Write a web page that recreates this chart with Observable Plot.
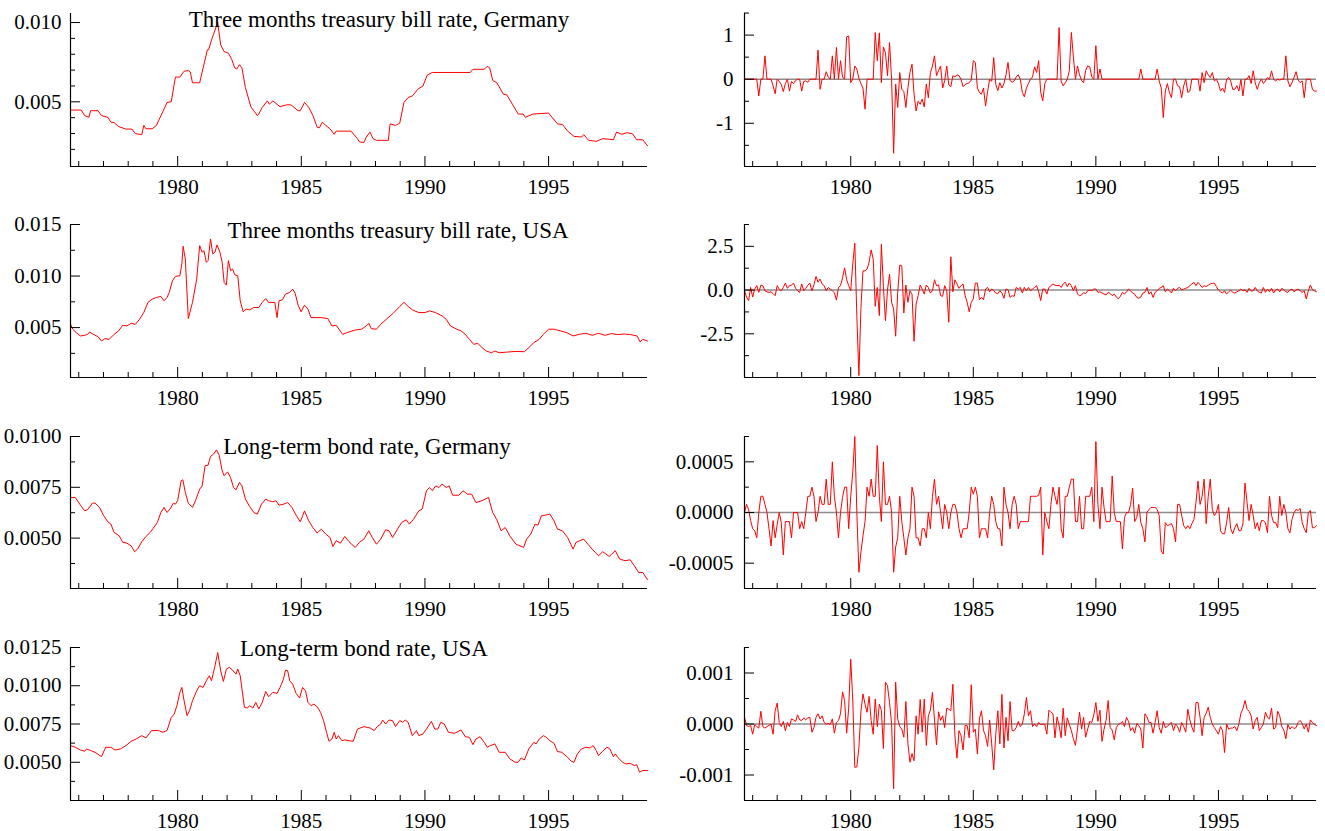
<!DOCTYPE html>
<html><head><meta charset="utf-8">
<script src="https://cdn.jsdelivr.net/npm/d3@7"></script>
<script src="https://cdn.jsdelivr.net/npm/@observablehq/plot@0.6"></script>
<style>
html,body{margin:0;padding:0;background:#fff;overflow:hidden;}
#chart{position:relative;width:1325px;height:831px;font-family:"Liberation Serif","Times New Roman",serif;}
#chart svg, #chart svg text{font-family:"Liberation Serif","Times New Roman",serif !important;font-size:21px;}
.title{position:absolute;font-size:23px;line-height:23px;white-space:nowrap;transform:translateX(-50%);color:#000;}
</style></head><body><div id="chart"></div>
<script>
// ---- time axis ----
const START = 1975 + 8 / 12;   // Sep 1975
const END = 1999;              // Jan 1999
const xLabelYears = [1980, 1985, 1990, 1995];
const xMinorYears = [1976,1977,1978,1979,1981,1982,1983,1984,1986,1987,1988,1989,1991,1992,1993,1994,1996,1997,1998];

// ---- titles ----
const titles = ["Three months treasury bill rate, Germany", "Three months treasury bill rate, USA", "Long-term bond rate, Germany", "Long-term bond rate, USA"];

// ---- left column: levels [year, value] ----
const billDE = [[1975.67,0.00448],[1976.10,0.00448],[1976.24,0.00413],[1976.41,0.00402],[1976.48,0.00444],[1976.78,0.00444],[1976.92,0.00413],[1977.18,0.00402],[1977.30,0.00371],[1977.43,0.00369],[1977.61,0.00344],[1977.90,0.00328],[1978.15,0.00328],[1978.29,0.00299],[1978.55,0.00293],[1978.63,0.00351],[1978.72,0.0033],[1978.97,0.0033],[1979.14,0.00351],[1979.28,0.00398],[1979.45,0.00454],[1979.57,0.00496],[1979.74,0.005],[1979.91,0.00656],[1980.09,0.00656],[1980.26,0.00693],[1980.43,0.00697],[1980.51,0.00689],[1980.60,0.0062],[1980.89,0.0062],[1981.03,0.00714],[1981.20,0.00828],[1981.25,0.00828],[1981.37,0.0089],[1981.45,0.00925],[1981.62,0.0100],[1981.74,0.00859],[1981.88,0.00817],[1982.05,0.00807],[1982.19,0.00766],[1982.31,0.00714],[1982.39,0.00707],[1982.50,0.00734],[1982.60,0.00714],[1982.74,0.00589],[1982.96,0.00469],[1983.22,0.00413],[1983.28,0.00423],[1983.42,0.00465],[1983.63,0.00506],[1983.71,0.00485],[1983.85,0.00506],[1984.14,0.00469],[1984.41,0.00481],[1984.58,0.00481],[1984.87,0.00444],[1984.96,0.00444],[1985.13,0.00496],[1985.30,0.00465],[1985.47,0.00413],[1985.64,0.0034],[1985.73,0.00336],[1985.85,0.00371],[1985.99,0.00351],[1986.16,0.0033],[1986.33,0.00295],[1986.41,0.00315],[1987.01,0.00315],[1987.27,0.00268],[1987.35,0.00247],[1987.53,0.00243],[1987.63,0.00278],[1987.78,0.00309],[1987.90,0.00268],[1988.04,0.00257],[1988.52,0.00257],[1988.59,0.00361],[1988.81,0.00351],[1988.98,0.00365],[1989.15,0.00496],[1989.32,0.00527],[1989.49,0.00537],[1989.71,0.00579],[1989.92,0.006],[1990.09,0.00668],[1990.30,0.00685],[1991.83,0.00685],[1991.94,0.00705],[1992.40,0.00705],[1992.52,0.00724],[1992.62,0.00714],[1992.74,0.00635],[1992.91,0.0062],[1993.17,0.00548],[1993.31,0.00544],[1993.55,0.00481],[1993.77,0.00423],[1993.97,0.00423],[1994.06,0.00402],[1994.37,0.00423],[1995.0,0.00429],[1995.36,0.00361],[1995.56,0.00357],[1995.77,0.00315],[1996.03,0.00282],[1996.33,0.00278],[1996.42,0.00293],[1996.62,0.00257],[1996.93,0.00251],[1997.19,0.00268],[1997.62,0.00261],[1997.75,0.00309],[1997.96,0.00295],[1998.16,0.00305],[1998.39,0.00299],[1998.56,0.00261],[1998.81,0.00261],[1999.0,0.00222]];

const billUS = [[1975.67,0.00532],[1975.76,0.00484],[1975.90,0.00451],[1976.07,0.00419],[1976.24,0.00425],[1976.36,0.00435],[1976.44,0.00458],[1976.58,0.00435],[1976.78,0.00412],[1976.92,0.0037],[1977.06,0.00393],[1977.23,0.00386],[1977.43,0.00435],[1977.61,0.00468],[1977.78,0.00523],[1977.95,0.00516],[1978.12,0.00542],[1978.29,0.00532],[1978.46,0.00581],[1978.63,0.00646],[1978.80,0.00744],[1978.97,0.00776],[1979.14,0.00792],[1979.32,0.00802],[1979.45,0.0076],[1979.57,0.00792],[1979.66,0.00841],[1979.79,0.00955],[1979.91,0.00997],[1980.09,0.01003],[1980.17,0.01117],[1980.22,0.01289],[1980.31,0.01166],[1980.43,0.00588],[1980.60,0.00744],[1980.77,0.00971],[1980.89,0.01295],[1980.99,0.0123],[1981.06,0.01247],[1981.16,0.01133],[1981.23,0.0115],[1981.33,0.0136],[1981.42,0.01215],[1981.51,0.01231],[1981.59,0.01302],[1981.71,0.01231],[1981.80,0.01133],[1981.88,0.00938],[1981.97,0.00912],[1982.05,0.0115],[1982.14,0.01052],[1982.22,0.01068],[1982.31,0.01013],[1982.43,0.01003],[1982.53,0.0076],[1982.65,0.00653],[1982.77,0.00679],[1982.91,0.00672],[1983.08,0.00695],[1983.28,0.00695],[1983.42,0.00744],[1983.56,0.00782],[1983.68,0.00744],[1983.93,0.00744],[1984.02,0.00597],[1984.10,0.0076],[1984.24,0.0077],[1984.36,0.00825],[1984.53,0.00841],[1984.65,0.00873],[1984.75,0.00834],[1984.87,0.00718],[1984.99,0.00653],[1985.13,0.00718],[1985.27,0.00679],[1985.39,0.00597],[1985.81,0.00597],[1986.07,0.00588],[1986.24,0.00516],[1986.41,0.00523],[1986.67,0.00435],[1986.84,0.00451],[1987.18,0.00477],[1987.44,0.00484],[1987.66,0.00523],[1987.73,0.00542],[1987.83,0.0049],[1988.04,0.00484],[1988.21,0.00532],[1988.47,0.00588],[1988.72,0.0064],[1988.98,0.00705],[1989.15,0.00744],[1989.32,0.00705],[1989.49,0.00672],[1989.75,0.00646],[1990.01,0.00646],[1990.18,0.00662],[1990.43,0.00646],[1990.69,0.00614],[1990.86,0.00581],[1991.03,0.00516],[1991.29,0.00484],[1991.46,0.00468],[1991.63,0.00435],[1991.80,0.00386],[1991.97,0.00338],[1992.14,0.00347],[1992.31,0.00305],[1992.48,0.00273],[1992.69,0.00256],[1992.83,0.00273],[1993.00,0.00256],[1993.34,0.00263],[1993.68,0.00269],[1994.02,0.00266],[1994.20,0.00305],[1994.40,0.00354],[1994.62,0.00386],[1994.79,0.00435],[1995.00,0.00484],[1995.22,0.00484],[1995.48,0.00468],[1995.74,0.00451],[1995.99,0.00419],[1996.25,0.00435],[1996.51,0.00445],[1996.77,0.00425],[1997.02,0.00445],[1997.28,0.00425],[1997.54,0.00442],[1997.80,0.00432],[1998.06,0.00438],[1998.32,0.00432],[1998.58,0.00419],[1998.70,0.0036],[1998.80,0.00386],[1999.0,0.0037]];

const bondDE = [[1975.67,0.0070],[1975.86,0.0070],[1976.07,0.00662],[1976.24,0.00634],[1976.37,0.00641],[1976.55,0.00672],[1976.66,0.00672],[1976.84,0.00651],[1977.01,0.0061],[1977.18,0.0058],[1977.30,0.00569],[1977.43,0.00528],[1977.64,0.00511],[1977.78,0.00479],[1977.95,0.00475],[1978.12,0.00462],[1978.26,0.00433],[1978.38,0.00446],[1978.55,0.00482],[1978.72,0.00508],[1978.89,0.00528],[1979.01,0.00548],[1979.18,0.00577],[1979.32,0.00626],[1979.45,0.00651],[1979.57,0.00626],[1979.69,0.00643],[1979.83,0.00672],[1979.91,0.00667],[1980.00,0.00684],[1980.14,0.00782],[1980.21,0.00787],[1980.31,0.00725],[1980.43,0.00672],[1980.60,0.00651],[1980.72,0.00684],[1980.89,0.00741],[1980.99,0.00757],[1981.11,0.00856],[1981.23,0.00859],[1981.33,0.00902],[1981.45,0.00913],[1981.57,0.00934],[1981.68,0.00908],[1981.80,0.00831],[1981.88,0.00807],[1982.02,0.00826],[1982.14,0.00798],[1982.26,0.00749],[1982.36,0.00738],[1982.50,0.00774],[1982.60,0.00757],[1982.74,0.00692],[1982.91,0.00656],[1983.08,0.00626],[1983.22,0.00618],[1983.39,0.00667],[1983.56,0.00692],[1983.68,0.00684],[1983.85,0.00679],[1983.97,0.00684],[1984.10,0.00662],[1984.28,0.00667],[1984.45,0.00675],[1984.62,0.00651],[1984.79,0.00613],[1984.96,0.0058],[1985.13,0.00634],[1985.30,0.00585],[1985.47,0.00552],[1985.64,0.00525],[1985.81,0.00544],[1985.99,0.0052],[1986.16,0.00503],[1986.28,0.00459],[1986.41,0.00487],[1986.58,0.00475],[1986.76,0.00508],[1986.93,0.00482],[1987.18,0.00454],[1987.35,0.00479],[1987.53,0.00495],[1987.73,0.00536],[1987.87,0.00503],[1988.04,0.0047],[1988.21,0.00495],[1988.41,0.00541],[1988.55,0.00536],[1988.69,0.00503],[1988.89,0.00544],[1989.06,0.00577],[1989.24,0.0059],[1989.37,0.00569],[1989.54,0.00593],[1989.75,0.00634],[1989.89,0.00643],[1990.06,0.00733],[1990.18,0.00749],[1990.30,0.00733],[1990.43,0.00757],[1990.57,0.00749],[1990.69,0.00766],[1990.86,0.00749],[1990.98,0.00757],[1991.12,0.00711],[1991.37,0.00711],[1991.54,0.00733],[1991.72,0.00716],[1991.89,0.00716],[1992.06,0.00675],[1992.31,0.00684],[1992.57,0.007],[1992.74,0.00626],[1992.91,0.0059],[1993.08,0.00536],[1993.25,0.00552],[1993.43,0.00511],[1993.68,0.0047],[1993.99,0.00454],[1994.11,0.00495],[1994.28,0.0052],[1994.45,0.00569],[1994.57,0.00564],[1994.71,0.0061],[1994.88,0.00613],[1995.05,0.00618],[1995.22,0.00585],[1995.36,0.00544],[1995.56,0.00536],[1995.77,0.00503],[1995.99,0.00446],[1996.11,0.00479],[1996.25,0.00487],[1996.42,0.00495],[1996.59,0.0047],[1996.76,0.00446],[1997.02,0.00413],[1997.19,0.00433],[1997.45,0.0041],[1997.70,0.00438],[1997.87,0.00397],[1998.09,0.00389],[1998.30,0.00393],[1998.47,0.00364],[1998.64,0.00331],[1998.81,0.00331],[1999.0,0.00295]];

const bondUS = [[1975.67,0.00609],[1975.86,0.00598],[1976.07,0.0058],[1976.24,0.00572],[1976.32,0.00587],[1976.49,0.00576],[1976.66,0.00565],[1976.92,0.00537],[1977.09,0.00598],[1977.30,0.00598],[1977.47,0.0058],[1977.69,0.00587],[1977.91,0.00609],[1978.12,0.00637],[1978.32,0.00652],[1978.55,0.00674],[1978.72,0.00659],[1978.94,0.00707],[1979.23,0.00707],[1979.40,0.00696],[1979.57,0.00707],[1979.74,0.00793],[1979.86,0.00815],[1979.97,0.0087],[1980.09,0.00957],[1980.17,0.00989],[1980.26,0.00902],[1980.38,0.00804],[1980.48,0.00837],[1980.60,0.00902],[1980.77,0.00967],[1980.89,0.01],[1981.03,0.00989],[1981.16,0.01033],[1981.28,0.01065],[1981.37,0.01033],[1981.51,0.0113],[1981.62,0.01217],[1981.74,0.01098],[1981.85,0.01028],[1981.97,0.01109],[1982.09,0.0112],[1982.22,0.01102],[1982.36,0.01076],[1982.43,0.01109],[1982.53,0.01065],[1982.70,0.00859],[1982.82,0.00854],[1982.91,0.0087],[1983.04,0.00854],[1983.16,0.00891],[1983.28,0.00848],[1983.42,0.00891],[1983.56,0.00963],[1983.68,0.00928],[1983.85,0.00957],[1984.02,0.0095],[1984.14,0.00989],[1984.28,0.01043],[1984.36,0.01102],[1984.45,0.01098],[1984.53,0.01033],[1984.65,0.01011],[1984.79,0.0095],[1984.93,0.0092],[1985.05,0.00989],[1985.17,0.00967],[1985.27,0.00891],[1985.39,0.0087],[1985.51,0.0088],[1985.64,0.00863],[1985.78,0.00826],[1985.90,0.00772],[1986.02,0.00696],[1986.12,0.00637],[1986.24,0.00652],[1986.33,0.00696],[1986.41,0.00652],[1986.50,0.00674],[1986.64,0.00641],[1986.76,0.00646],[1986.93,0.00641],[1987.10,0.00637],[1987.27,0.00717],[1987.53,0.00733],[1987.78,0.00724],[1987.95,0.00707],[1988.07,0.00733],[1988.21,0.0075],[1988.29,0.00776],[1988.41,0.0075],[1988.55,0.00776],[1988.69,0.00772],[1988.81,0.00733],[1988.98,0.00772],[1989.10,0.00761],[1989.20,0.00776],[1989.32,0.00761],[1989.49,0.00674],[1989.66,0.00707],[1989.75,0.00674],[1989.92,0.00685],[1990.09,0.00724],[1990.26,0.00767],[1990.40,0.00717],[1990.52,0.00717],[1990.64,0.00761],[1990.78,0.0075],[1990.95,0.00696],[1991.20,0.00689],[1991.46,0.00711],[1991.63,0.00667],[1991.80,0.00663],[1991.94,0.00615],[1992.06,0.00652],[1992.23,0.00667],[1992.40,0.0063],[1992.52,0.00598],[1992.66,0.00609],[1992.83,0.0062],[1993.00,0.00565],[1993.25,0.00565],[1993.43,0.00522],[1993.65,0.005],[1993.77,0.005],[1993.89,0.00528],[1994.02,0.00515],[1994.20,0.00587],[1994.40,0.0063],[1994.50,0.0062],[1994.62,0.00652],[1994.79,0.00674],[1994.91,0.00663],[1995.05,0.00641],[1995.22,0.00624],[1995.36,0.0057],[1995.53,0.00565],[1995.74,0.00537],[1995.91,0.00507],[1996.03,0.005],[1996.16,0.00554],[1996.33,0.00587],[1996.51,0.00598],[1996.68,0.00593],[1996.80,0.00609],[1996.93,0.00576],[1997.02,0.00543],[1997.19,0.00572],[1997.36,0.00598],[1997.48,0.00587],[1997.62,0.00537],[1997.70,0.00554],[1997.82,0.00528],[1997.99,0.005],[1998.13,0.00489],[1998.30,0.00493],[1998.47,0.00478],[1998.56,0.00485],[1998.68,0.00435],[1998.80,0.00446],[1999.0,0.00446]];

// ---- right column: monthly changes, Sep 1975 .. Jan 1999 ----
const dBillDE = [0,0,0,0,0,0,0,-0.38,0,0,
0.53,0,0,0,-0.15,-0.33,0,-0.05,-0.12,-0.28,
-0.1,0,-0.27,-0.05,-0.1,-0.03,0,0,-0.27,-0.05,
-0.04,-0.07,0,0,0,0,0.66,-0.23,0,0,
0.17,0.05,0,0.53,0,0.72,0,0.42,0.05,0,
0.96,0.98,-0.08,0,0.3,0.23,0.02,-0.1,-0.2,-0.68,
0,0,0,0,1.06,0.42,1.05,-0.08,0.73,0.6,
0.08,0.83,0,-1.68,-0.11,-0.64,0.15,-0.23,-0.28,-0.64,
-0.19,0.15,0.34,-0.34,-0.72,-0.5,-0.57,-0.45,-0.63,-0.11,
-0.42,0.15,0.3,0.53,0.08,0.2,0.3,-0.2,-0.03,0.3,
-0.13,-0.17,0.08,0.05,0.1,0.08,0,-0.17,-0.12,-0.1,
-0.08,-0.02,0.42,0.38,-0.2,-0.3,-0.34,-0.2,-0.61,-0.28,
0,-0.05,0.49,-0.12,-0.26,-0.08,-0.2,-0.1,0.1,0.38,
-0.03,-0.07,-0.04,0.05,0.1,0,-0.3,-0.4,-0.2,-0.1,
0,0.05,0.28,0.15,0.42,-0.3,-0.49,-0.1,0,0,
0,0,0,0,1.17,-0.05,-0.15,-0.08,0,0.19,
1.06,0.5,0,0.3,0.1,-0.03,-0.08,0.2,0.3,0.28,
0.05,0,0.76,0,0.23,0,0,0,0,0,
0,0,0,0,0,0,0,0,0,0,
0,0,0,0,0.23,0,0,0,0,0,
0,0,0.23,-0.04,-0.2,-0.87,-0.27,-0.1,-0.3,-0.42,
0,0,-0.15,-0.17,-0.42,-0.15,0,-0.3,-0.27,0,
0,0,0,-0.27,0.15,-0.08,0.19,0.1,0.04,0.15,
-0.04,0,-0.1,-0.27,-0.2,-0.3,0,0.04,-0.04,-0.23,
-0.23,-0.15,-0.27,-0.01,-0.38,0,0,0.08,-0.1,0.19,
-0.08,-0.23,-0.08,0,-0.1,-0.04,0.04,0,0.19,0,
-0.04,0,-0.02,0,0,0.53,-0.04,-0.17,-0.08,0.04,
0.17,-0.02,-0.08,-0.04,-0.42,0,0,0,-0.23,-0.27,
-0.27];

const dBillUS = [-0.04,-0.4,-0.6,0.15,-0.4,0.06,0.25,-0.13,0.28,0.25,
-0.04,-0.1,-0.13,-0.1,-0.2,-0.32,0.25,0.05,-0.04,0.15,
0.4,0.1,0.25,0.28,0.4,0.1,-0.04,-0.13,0.35,-0.04,
0.1,0.28,0.4,-0.04,0.3,0.78,0.45,0.63,0.35,0.25,
-0.04,0.15,0.05,-0.04,-0.15,-0.57,0.15,0.25,0.7,1.27,
0.6,0.25,-0.04,1.5,2.68,-1.5,-4.89,-1.0,1.1,1.1,
1.2,1.6,2.3,1.77,-0.93,0.15,-1.46,2.62,0.2,-1.75,
0,0.91,-0.7,-1.08,-2.64,-0.13,1.43,1.39,-1.31,0.29,
-0.7,-0.04,-0.23,-2.93,-0.8,-0.32,0.29,0.05,-0.23,0.29,
0.15,-0.17,-0.04,0.59,0.25,0.3,-0.32,-0.36,0.25,-0.04,
-1.84,1.9,-0.1,0.59,0.35,0.1,0.25,0.35,-0.32,-0.7,
-1.24,-0.7,-0.5,0.4,0.4,-0.55,-0.42,-0.55,0.06,0.15,
-0.1,0.06,-0.04,-0.17,-0.2,-0.04,-0.17,-0.47,0.06,0.02,
-0.42,-0.32,-0.36,0.15,0.06,0.15,-0.17,0.15,-0.04,0.15,
-0.04,0.06,0.15,0.25,-0.1,-0.6,0.06,0.06,-0.23,0.15,
0.25,0.35,0.28,0.25,0.28,0.15,0.35,0.45,0.2,0.4,
0.25,-0.04,0.25,-0.23,-0.32,-0.28,-0.15,-0.2,-0.04,0,
-0.04,0.06,0.06,-0.13,-0.1,-0.17,-0.23,-0.28,-0.13,-0.2,
-0.32,-0.23,-0.4,-0.5,-0.36,-0.13,-0.23,-0.1,0.06,-0.04,
-0.17,-0.23,-0.42,-0.47,-0.4,-0.17,-0.13,0.15,-0.23,-0.1,
-0.42,-0.13,-0.04,0.1,0.15,0.25,-0.1,0.06,-0.04,-0.17,
0.1,-0.04,0.1,0.15,0,0.06,0.1,0.15,0.25,0.35,
0.44,0.25,0.44,0.3,0.15,0.25,0.2,0.28,0.35,0.38,
0.4,0.2,0,-0.1,-0.17,-0.04,-0.23,-0.1,0,-0.13,
-0.17,-0.1,-0.04,0.06,-0.04,0.02,-0.13,0.1,-0.06,-0.04,
0.15,-0.04,-0.13,-0.17,0.15,-0.13,0.06,-0.1,0.1,-0.17,
0,0.06,-0.1,0.1,0.02,-0.1,-0.13,0,0.06,-0.1,
0,0.06,-0.04,-0.13,-0.04,-0.51,-0.04,0.29,0.02,-0.04,
-0.1];

// in units of 1e-4
const dBondDE = [0,0.8,0.3,-0.8,-1.6,-1.8,-2.5,0,1.6,1.6,0.8,0,-1.6,-3.3,-0.8,-2.5,-1.2,0,-1.0,-4.2,-0.9,-0.9,-0.9,-2.5,0,0,0,-1.6,-0.9,-1.6,0,1.6,
1.6,2.5,1.6,-0.9,0,1.6,0.8,0.8,3.3,0.8,0.8,5.0,1.6,0,-2.5,0,1.5,2.5,2.5,-1.6,1.6,4.0,7.5,0,-5.9,-3.9,-2.3,-0.9,2.5,1.6,3.3,1.6,
1.6,6.6,1.6,-0.9,5.0,0.8,0.8,1.6,0,-5.9,-3.4,-2.5,1.6,-0.9,-2.5,-4.2,-2.5,-1.6,2.5,1.6,-2.5,-2.5,-3.3,-1.6,-1.6,-2.5,0,-1.6,1.6,3.3,0.8,1.6,
0,-1.6,0.8,0,-1.6,0,0.8,0.8,0,-1.6,-2.5,-1.6,-1.6,-1.6,0,2.5,1.8,2.5,1.6,-2.5,-1.6,-1.6,-1.6,-2.5,0,1.6,0.8,-0.9,-1.6,-1.6,-3.3,2.5,
0.8,0,-1.6,0.8,1.6,0.8,-1.6,-0.9,-0.9,-0.9,-0.9,-0.9,1.6,1.6,1.6,1.6,1.7,2.5,-4.2,0,-0.9,-1.6,0.8,2.5,1.6,0.8,2.5,-1.6,-2.5,1.6,1.6,2.5,
3.3,3.3,-0.9,-0.9,1.6,-1.6,-1.6,1.6,1.6,1.6,2.5,-0.9,7.0,0.8,-1.6,2.5,0.5,-0.9,-0.9,-0.9,3.6,0,-0.9,-0.9,-0.9,-3.6,-0.5,0,0,0.8,2.4,-0.9,
-0.5,0.8,-1.0,-1.6,-2.9,0,0.3,0.5,0.5,0.5,0.3,-0.3,-3.8,-4.1,-1.0,-1.3,-1.2,-1.1,-1.6,-2.9,0.8,0.8,-0.3,-1.3,-1.6,-1.3,-1.6,-1.1,-0.7,1.0,3.1,0.8,
1.6,3.3,-1.1,1.6,3.3,0.3,-0.3,0,0.8,-1.8,-2.1,-2.1,-1.0,0.5,-1.6,-2.1,-1.5,-1.1,-1.8,-1.8,-1.1,2.9,1.0,-0.8,0.8,-0.3,-1.6,-1.0,-1.8,-0.8,-0.8,-1.0,
-2.0,1.6,-0.3,-1.0,-1.0,-1.5,1.6,-0.3,0.8,0,-1.6,-2.0,-0.7,0,0.3,0.2,0.4,-1.0,-1.6,-2.0,0,0.2,-1.5,-1.5,-1.3];

// in units of 1e-4
const dBondUS = [1.3,-0.3,-0.5,-0.3,-2.0,-0.1,-0.5,-0.8,2.5,-0.5,
-0.8,-0.5,-0.3,0,-2.0,2.6,4.1,0.3,-0.5,0.5,
-1.3,0.3,-0.5,1.0,0.8,0.5,1.8,0.8,0.7,1.2,
0.8,1.2,1.3,-1.6,-0.7,1.3,2.0,1.0,1.6,0.3,
0,0.1,-0.1,1.0,-1.8,0.3,0.7,2.0,6.3,4.6,
-1.8,3.1,12.7,4.7,-8.5,-8.4,-4.6,2.5,5.9,3.9,
2.3,5.4,0.7,-2.0,4.9,-0.5,3.9,2.7,-4.8,8.2,
7.5,4.2,0.1,-12.7,8.2,1.0,-0.5,-1.0,-2.6,4.4,
-3.9,-7.5,-5.8,-7.2,1.6,-2.0,4.8,-1.6,4.9,-4.2,
1.6,2.7,6.2,0.8,-4.1,2.4,0.7,1.6,-0.7,3.1,
2.9,2.6,7.8,-2.3,-6.7,-1.3,-2.3,-5.1,-0.3,-0.3,
-2.7,7.7,-1.6,-1.0,-5.9,1.0,2.6,-1.3,-2.3,-4.4,
0.8,-3.9,-9.0,-2.0,2.6,-3.9,5.8,-4.7,1.3,-3.3,
4.4,
-1.3,-1.3,-0.7,0.5,-0.5,0,2.0,5.2,1.6,2.6,-0.5,0,-0.5,0.3,
-0.1,0,-0.1,-2.0,2.7,2.3,2.0,-2.7,1.4,-0.3,-2.7,3.1,-2.3,1.2,-0.1,-1.3,-2.9,-4.2,-1.0,2.3,-1.0,1.3,-2.6,-1.0,0.5,
0.3,1.8,4.2,0.5,2.7,-3.4,-1.0,0.7,4.6,-0.7,-1.2,-3.1,-0.7,-0.1,0.1,0.5,-0.5,1.3,0.5,-1.3,-0.7,-1.8,0.1,-0.3,-1.0,
-4.7,2.0,1.4,0.3,0.3,-1.8,0.3,2.6,-0.7,-1.8,0.5,-0.7,-0.5,0,0.3,-1.3,0,-0.5,-1.6,0.3,-0.5,-1.6,2.9,0.8,-0.6,
-1.6,4.2,4.2,1.3,-2.3,1.3,2.1,3.3,1.3,0,-0.7,-1.3,-2.0,-0.5,-1.3,-5.6,0,-1.0,-0.8,-0.8,-0.5,-1.3,0,2.1,3.0,
4.6,2.9,2.5,1.6,-1.0,0.7,1.3,-1.3,-0.7,0,2.3,1.3,1.0,3.1,-1.0,-0.7,2.5,1.6,-0.5,-1.2,-2.9,-0.1,-1.0,-0.5,-0.9,
-0.7,0.3,0.7,0.1,-1.0,0,-1.6,0.8,0.3,-0.1,-0.3];
const bondUnit = 1e-4;

// ---- y axis ticks per panel ----
const ticks = {
  billDE:  {major: [0.005, 0.010], minor: [0.002,0.003,0.004,0.006,0.007,0.008,0.009], dec: 3, domain: [0.00092, 0.01057]},
  dBillDE: {major: [-1, 0, 1], minor: [-1.5,-0.5,0.5,1.5], dec: 0, domain: [-1.98, 1.49]},
  billUS:  {major: [0.005, 0.010, 0.015], minor: [0.0025,0.0075,0.0125], dec: 3, domain: [0.00016, 0.015]},
  dBillUS: {major: [-2.5, 0, 2.5], minor: [-3.75,-1.25,1.25,3.75], dec: 1, domain: [-5, 3.75]},
  bondDE:  {major: [0.005, 0.0075, 0.01], minor: [0.00375,0.00625,0.00875], dec: 4, domain: [0.00252, 0.0100]},
  dBondDE: {major: [-0.0005, 0, 0.0005], minor: [-0.00075,-0.00025,0.00025,0.00075], dec: 4, domain: [-0.00075, 0.00075]},
  bondUS:  {major: [0.005, 0.0075, 0.01, 0.0125], minor: [0.00375,0.00625,0.00875,0.01125], dec: 4, domain: [0.0025, 0.0125]},
  dBondUS: {major: [-0.001, 0, 0.001], minor: [-0.0015,-0.0005,0.0005,0.0015], dec: 3, domain: [-0.0015, 0.0015]}
};

const pairs = arr => arr.map(([t, v]) => ({t, v}));
const monthly = (vals, unit = 1) => vals.map((v, i) => ({t: START + i / 12, v: v * unit}));

const rowTop = [1, 212, 424, 635];
const rowFH = [153, 153, 152, 153];
const chart = document.getElementById("chart");
const SERIF = '"Liberation Serif","Times New Roman",serif';

function panel(data, tk, col, row, zero) {
  const W = col === 0 ? 662 : 663;
  const ml = col === 0 ? 70 : 82, mr = col === 0 ? 15 : 9;
  const mt = 12, mb = 31, fh = rowFH[row];
  const fw = W - ml - mr;
  const plot = Plot.plot({
    width: W, height: mt + fh + mb,
    marginLeft: ml, marginRight: mr, marginTop: mt, marginBottom: mb,
    style: {fontSize: "21px", color: "#000", background: "transparent", overflow: "visible"},
    x: {domain: [START, END], label: null},
    y: {domain: tk.domain, label: null},
    marks: [
      zero ? Plot.ruleY([0], {stroke: "#8c8c8c", strokeWidth: 1.5}) : null,
      Plot.line(data, {x: "t", y: "v", stroke: "#ff0000", strokeWidth: 1}),
      Plot.ruleX([START], {stroke: "#000", strokeWidth: 1.2}),
      Plot.ruleY([tk.domain[0]], {stroke: "#000", strokeWidth: 1.2}),
      Plot.tickX(xMinorYears, {x: d => d, stroke: "#000", insetTop: fh - 5}),
      Plot.tickX(xLabelYears, {x: d => d, stroke: "#000", insetTop: fh - 10}),
      Plot.tickY(tk.minor, {y: d => d, stroke: "#000", insetRight: fw - 5}),
      Plot.tickY(tk.major, {y: d => d, stroke: "#000", insetRight: fw - 10}),
      Plot.axisX(xLabelYears, {tickSize: 0, tickPadding: 13, tickFormat: d => String(d), label: null, fontSize: 21}),
      Plot.axisY(tk.major, {tickSize: 0, tickPadding: col === 0 ? 9 : 11, tickFormat: d => d.toFixed(tk.dec), label: null, fontSize: 21})
    ]
  });
  plot.style.position = "absolute";
  plot.style.left = (col === 0 ? 0 : 662) + "px";
  plot.style.top = rowTop[row] + "px";
  plot.style.fontFamily = SERIF;
  plot.setAttribute("font-family", SERIF);
  plot.querySelectorAll("text").forEach(t => t.setAttribute("font-family", SERIF));
  chart.appendChild(plot);
}

panel(pairs(billDE), ticks.billDE, 0, 0, false);
panel(monthly(dBillDE), ticks.dBillDE, 1, 0, true);
panel(pairs(billUS), ticks.billUS, 0, 1, false);
panel(monthly(dBillUS), ticks.dBillUS, 1, 1, true);
panel(pairs(bondDE), ticks.bondDE, 0, 2, false);
panel(monthly(dBondDE, bondUnit), ticks.dBondDE, 1, 2, true);
panel(pairs(bondUS), ticks.bondUS, 0, 3, false);
panel(monthly(dBondUS, bondUnit), ticks.dBondUS, 1, 3, true);

// titles inside the left panels
const titlePos = [[379, 8], [398, 219], [367, 435], [364, 637]];
titles.forEach((t, i) => {
  const d = document.createElement("div");
  d.className = "title";
  d.textContent = t;
  d.style.left = titlePos[i][0] + "px";
  d.style.top = titlePos[i][1] + "px";
  chart.appendChild(d);
});
</script></body></html>
